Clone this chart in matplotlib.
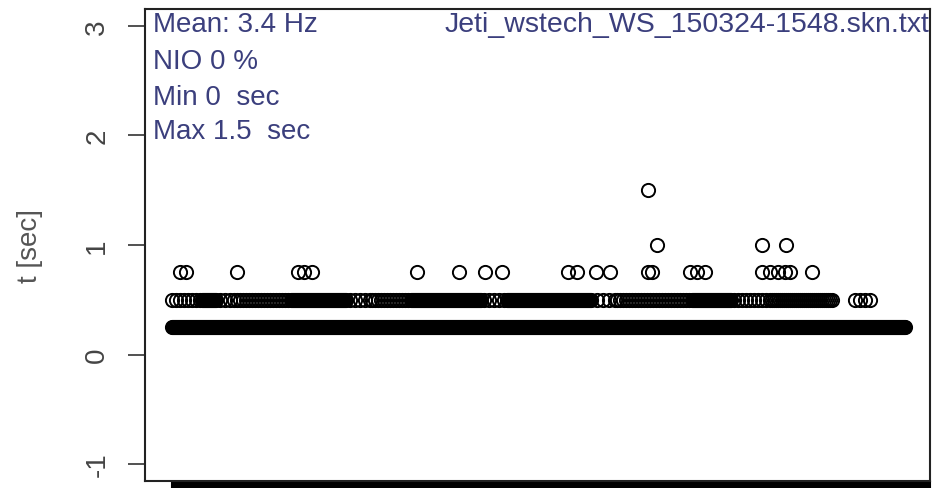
import numpy as np
import matplotlib
matplotlib.use("Agg")
import matplotlib.pyplot as plt

plt.rcParams['font.family'] = ['Liberation Sans', 'DejaVu Sans']

# samples in the log (one interval value per sample)
n_samples = 734
base_t = 0.25

# runs of samples at t = 0.5 sec: (start, stop, step)
runs_05 = [(0, 30, 4), (30, 45, 1), (48, 60, 5), (62, 120, 3), (120, 175, 1),
           (178, 200, 5), (200, 240, 3), (240, 310, 1), (312, 335, 5),
           (335, 420, 1), (425, 445, 6), (445, 520, 3), (520, 560, 1),
           (562, 600, 4), (600, 662, 2), (683, 699, 5)]

# single samples at larger intervals
idx_075 = [8, 14, 65, 126, 132, 140, 245, 287, 313, 330, 396, 405, 424, 438,
           476, 480, 518, 525, 533, 590, 598, 606, 613, 618, 640]
idx_100 = [485, 590, 614]
idx_150 = [476]

title_file = "Jeti_wstech_WS_150324-1548.skn.txt"
info_lines = ["Mean: 3.4 Hz", "NIO 0 %", "Min 0  sec", "Max 1.5  sec"]

idx_05 = np.concatenate([np.arange(a, b, s) for a, b, s in runs_05])

fig = plt.figure(figsize=(9.41, 4.89), dpi=100)
ax = fig.add_axes([145/941, 1 - 482/489, 785/941, 472/489])

mk = dict(marker='o', linestyle='none', markersize=9.5, markerfacecolor='none',
          markeredgecolor='black', markeredgewidth=1.4)
ax.plot(np.arange(n_samples), np.full(n_samples, base_t), **mk)
ax.plot(idx_05, np.full(len(idx_05), 0.5), **mk)
ax.plot(idx_075, np.full(len(idx_075), 0.75), **mk)
ax.plot(idx_100, np.full(len(idx_100), 1.0), **mk)
ax.plot(idx_150, np.full(len(idx_150), 1.5), **mk)

span = n_samples - 1
ax.set_xlim(-0.037 * span, span + 0.034 * span)
ax.set_ylim(-1.155, 3.155)

ax.set_yticks([-1, 0, 1, 2, 3])
ax.set_yticklabels(['-1', '0', '1', '2', '3'], rotation=90, va='center',
                   fontsize=20, color='#444444')
ax.tick_params(axis='y', length=12, width=1.2, pad=13, color='#333333')

# dense sample ticks along the bottom edge
ax.set_xticks(np.arange(0, 760, 2))
ax.set_xticklabels([])
ax.tick_params(axis='x', length=10, width=1.5, color='black')

for s in ax.spines.values():
    s.set_linewidth(1.5)
    s.set_color('#222222')

fig.text(30/941, 1 - 246/489, 't [sec]', rotation=90, ha='center', va='center',
         fontsize=20, color='#555555')

txt_col = '#3b3f7d'
ys = [25, 62, 98, 132]
for line, y in zip(info_lines, ys):
    ax.text(0.0102, (482 - y) / 472, line, transform=ax.transAxes,
            ha='left', va='center', fontsize=20, color=txt_col)
ax.text(0.999, (482 - 25) / 472, title_file, transform=ax.transAxes,
        ha='right', va='center', fontsize=20.5, color=txt_col)

fig.savefig('out.png', dpi=100, facecolor='white')
